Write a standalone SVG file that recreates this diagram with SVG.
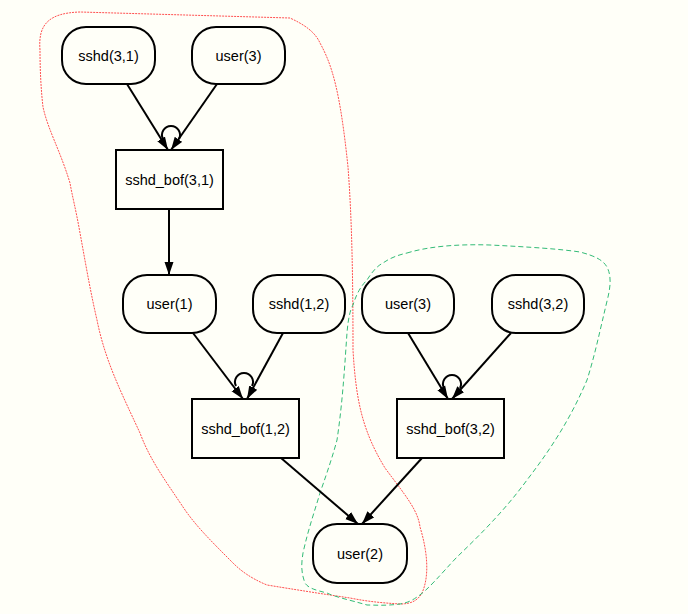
<svg xmlns="http://www.w3.org/2000/svg" width="688" height="614" viewBox="0 0 688 614">
<style>
.bg{fill:#fffff8}
.n{fill:none;stroke:#000;stroke-width:2}
.t{font-family:"Liberation Sans",Arial,sans-serif;font-size:14.5px;text-anchor:middle;fill:#000}
.e{fill:none;stroke:#000;stroke-width:2;marker-end:url(#ah)}
.loop{fill:none;stroke:#000;stroke-width:2}
.hr{fill:none;stroke:#ff4f4f;stroke-width:1;stroke-dasharray:2 1}
.hg{fill:none;stroke:#33bb77;stroke-width:1;stroke-dasharray:5 3}
</style>
<defs>
<marker id="ah" markerUnits="userSpaceOnUse" markerWidth="14" markerHeight="10" refX="13" refY="4.5" orient="auto" viewBox="0 0 14 9">
<path d="M0,0 L13,4.5 L0,9 z" fill="#000"/>
</marker>
</defs>
<rect class="bg" x="0" y="0" width="688" height="614"/>
<g id="hulls">
<path class="hr" d="M40,50 C38,25 48,13 80,12 L290,18 C305,25 315,32 320,43 C332,65 340,90 348,167 C352,220 353,280 353,350 C356,400 362,430 385,468 C405,495 418,510 420,527 C427,550 430,575 422,593 C418,600 412,604 400,604 C385,603 370,602 350,598 C330,595 310,592 267,585 C250,578 240,570 233,563 C210,540 195,525 183,507 C165,480 150,460 140,433 C120,390 105,360 97,320 C90,290 85,260 80,233 C76,210 72,195 70,183 C60,150 48,130 43,107 C41,90 40,70 40,50 Z"/>
<path class="hg" d="M407,253 C430,246 460,244 490,245 C530,247 560,249 580,252 C595,256 603,260 607,267 C612,277 610,288 608,297 C600,330 595,355 587,380 C570,420 550,450 527,480 C505,510 480,535 457,557 C440,575 428,590 417,597 C410,602 405,603 400,604 C385,606 375,605 367,605 C350,600 335,597 327,593 C315,590 308,588 305,583 C300,570 302,560 303,553 C308,530 315,510 320,493 C328,470 333,455 337,440 C343,400 345,360 347,333 C348,320 350,310 353,305 C357,292 362,285 367,280 C372,272 377,266 383,263 C390,258 398,255 407,253 Z"/>
</g>
<g id="connectors">
<path class="e" d="M127,84 L168,150"/>
<path class="e" d="M217,84 L171,150"/>
<path class="loop" d="M163,139 A9,9 0 1 1 179,139"/>
<path class="e" d="M169,209 L169,275"/>
<path class="e" d="M193,333 L243,399"/>
<path class="e" d="M283,333 L247,399"/>
<path class="loop" d="M236,386 A9,9 0 1 1 252,386"/>
<path class="e" d="M408,333 L448,399"/>
<path class="e" d="M511,333 L452,399"/>
<path class="loop" d="M444,388 A9,9 0 1 1 460,388"/>
<path class="e" d="M281,458 L358,524"/>
<path class="e" d="M422,458 L362,524"/>
</g>
<g id="n_sshd31"><rect class="n" x="62" y="27" width="93" height="57" rx="24"/><text class="t" x="108.5" y="60.5">sshd(3,1)</text></g>
<g id="n_user3a"><rect class="n" x="192" y="27" width="93" height="57" rx="24"/><text class="t" x="238.5" y="60.5">user(3)</text></g>
<g id="n_bof31"><rect class="n" x="116" y="150" width="107" height="59"/><text class="t" x="169.5" y="184.5">sshd_bof(3,1)</text></g>
<g id="n_user1"><rect class="n" x="123" y="275" width="93" height="58" rx="24"/><text class="t" x="169.5" y="309">user(1)</text></g>
<g id="n_sshd12"><rect class="n" x="253" y="275" width="92" height="58" rx="24"/><text class="t" x="299" y="309">sshd(1,2)</text></g>
<g id="n_user3b"><rect class="n" x="362" y="275" width="92" height="58" rx="24"/><text class="t" x="408" y="309">user(3)</text></g>
<g id="n_sshd32"><rect class="n" x="492" y="275" width="92" height="58" rx="24"/><text class="t" x="538" y="309">sshd(3,2)</text></g>
<g id="n_bof12"><rect class="n" x="192" y="399" width="107" height="59"/><text class="t" x="245.5" y="433.5">sshd_bof(1,2)</text></g>
<g id="n_bof32"><rect class="n" x="397" y="399" width="107" height="59"/><text class="t" x="450.5" y="433.5">sshd_bof(3,2)</text></g>
<g id="n_user2"><rect class="n" x="313" y="524" width="94" height="59" rx="24"/><text class="t" x="360" y="558.5">user(2)</text></g>
</svg>
